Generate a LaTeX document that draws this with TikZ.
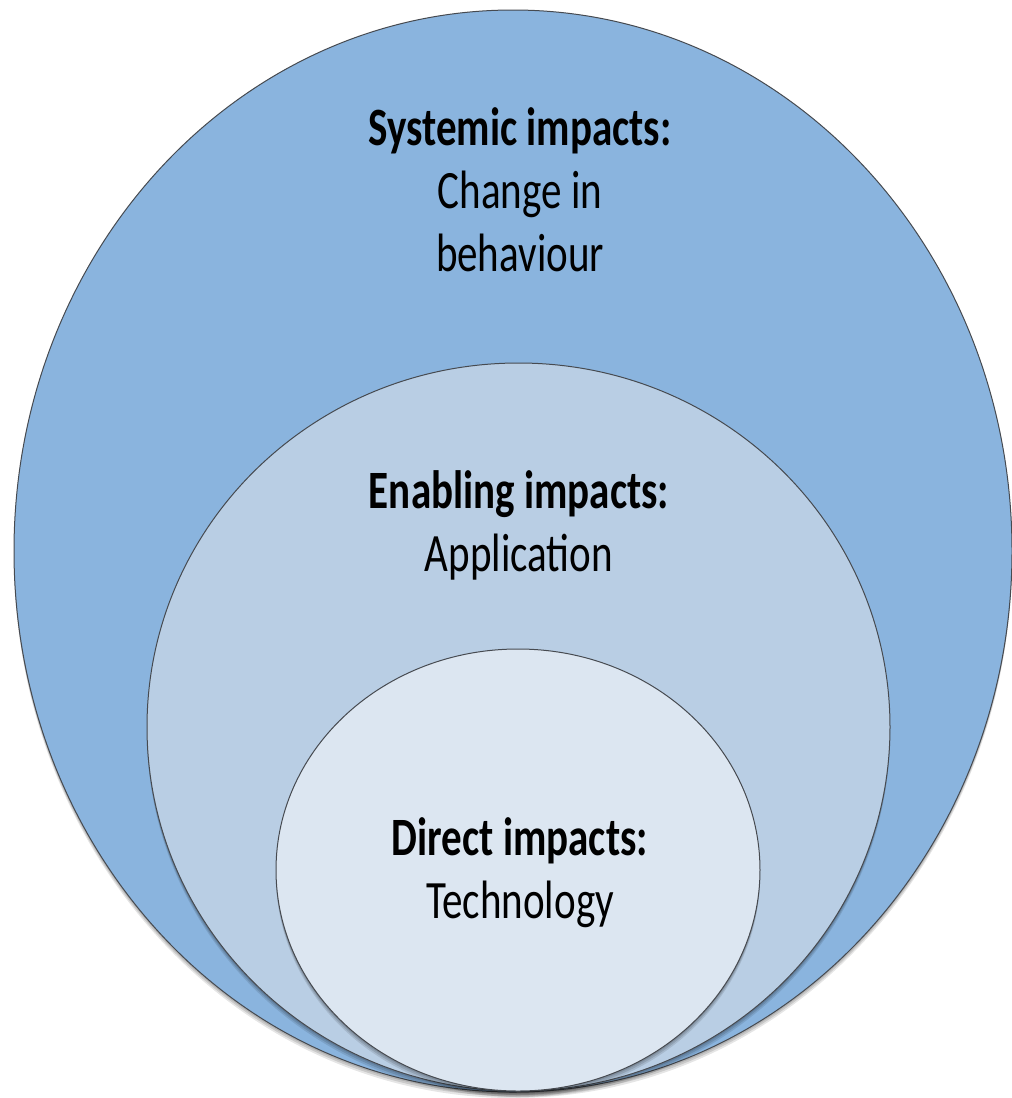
\documentclass[tikz,border=0pt]{standalone}
\usepackage{fontspec}
\setmainfont{Carlito}
\usetikzlibrary{shapes.geometric}
\definecolor{outerc}{RGB}{138,180,222}
\definecolor{midc}{RGB}{185,206,228}
\definecolor{innerc}{RGB}{220,230,241}
\definecolor{edgec}{RGB}{70,74,80}
\tikzset{
  ring/.style={ellipse, draw=edgec, line width=1pt, inner sep=0pt,
    preaction={fill=black, opacity=0.12, transform canvas={yshift=-2pt}},
    preaction={fill=black, opacity=0.12, transform canvas={yshift=-4pt}},
    preaction={fill=black, opacity=0.10, transform canvas={yshift=-6pt}}},
  label/.style={align=center, font=\fontsize{54}{63}\selectfont, inner sep=0pt, text=black, xscale=0.76}
}
\begin{document}
\begin{tikzpicture}[x=1pt,y=-1pt]
\useasboundingbox (0,0) rectangle (1012,1098);
\node[ring, fill=outerc, minimum width=998pt, minimum height=1082pt] (outer) at (513,551) {};
\node[ring, fill=midc, minimum width=743pt, minimum height=728pt] (middle) at (518.5,727) {};
\node[ring, fill=innerc, minimum width=484pt, minimum height=442pt] (inner) at (518,870) {};
\node[label] (sys) at (520,190) {\textbf{Systemic impacts:}\\Change in\\behaviour};
\node[label] (ena) at (519,525) {\textbf{Enabling impacts:}\\Application};
\node[label] (dir) at (520,873) {\textbf{Direct impacts:}\\Technology};
\end{tikzpicture}
\end{document}
